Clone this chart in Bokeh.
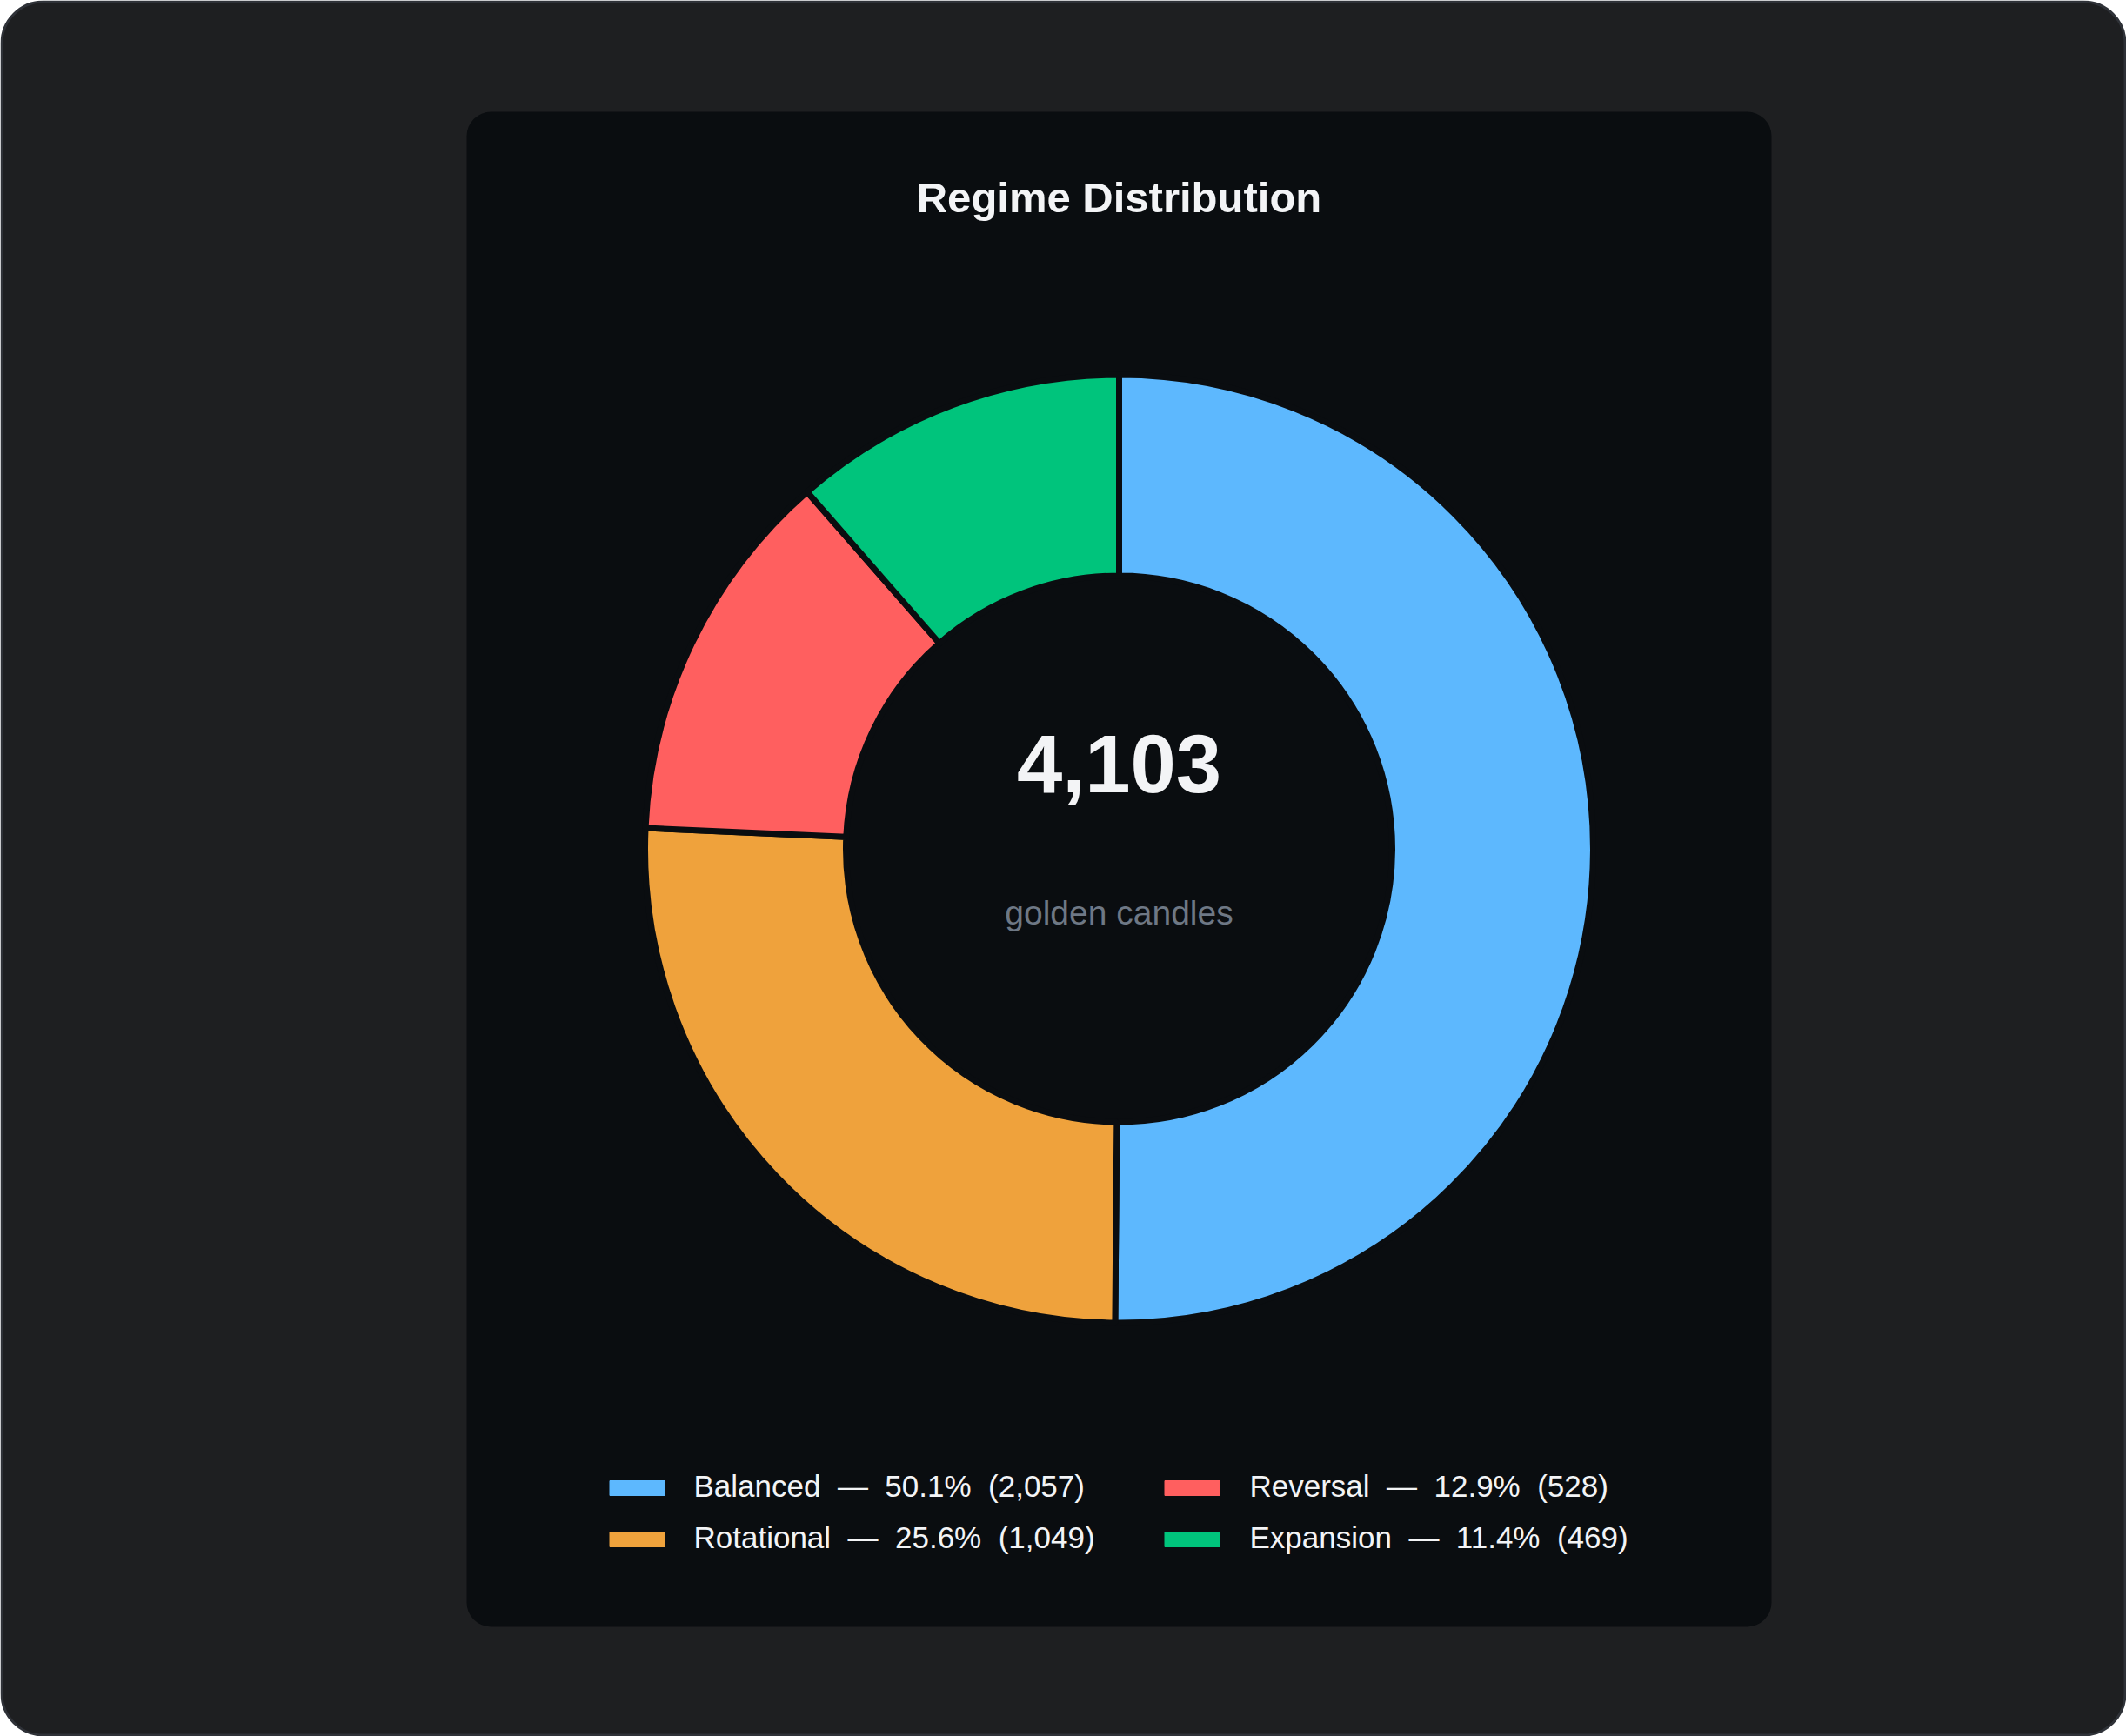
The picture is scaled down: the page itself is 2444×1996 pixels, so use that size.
import math
from bokeh.plotting import figure
from bokeh.models import Range1d, BoxAnnotation, ColumnDataSource
from bokeh.core.properties import value
from bokeh.embed import file_html
from bokeh.resources import INLINE

# ---- data ----
categories = ["Balanced", "Rotational", "Reversal", "Expansion"]
counts = [2057, 1049, 528, 469]
colors = ["#5db8fe", "#efa23c", "#ff5f5f", "#00c47c"]
title_text = "Regime Distribution"
center_label = "golden candles"

W, H = 2444, 1996
FONT = "Liberation Sans"
CARD_BG = "#0a0d10"

def Y(y_top):
    return H - y_top

p = figure(width=W, height=H, output_backend="svg", toolbar_location=None,
           x_range=Range1d(0, W), y_range=Range1d(0, H), min_border=0,
           background_fill_color="#ffffff", border_fill_color="#ffffff")
p.axis.visible = False
p.grid.visible = False
p.outline_line_color = None

# outer frame
p.add_layout(BoxAnnotation(left=1.5, right=W - 1.5, bottom=1.5, top=H - 1.5,
                           fill_color="#1e1f21", fill_alpha=1.0,
                           line_color="#2f3238", line_width=3, line_alpha=1.0,
                           border_radius=48, level="underlay"))
# card
p.add_layout(BoxAnnotation(left=536, right=2036, bottom=Y(1870), top=Y(128),
                           fill_color=CARD_BG, fill_alpha=1.0, line_color=None,
                           border_radius=28, level="underlay"))

# donut
total = sum(counts)
cx, cy = 1286, Y(975.5)
starts, ends = [], []
a = math.pi / 2
for c in counts:
    frac = c / total
    starts.append(a)
    a2 = a - frac * 2 * math.pi
    ends.append(a2)
    a = a2
src = ColumnDataSource(dict(x=[cx] * len(counts), y=[cy] * len(counts),
                            start=starts, end=ends, color=colors, cat=categories))
p.annular_wedge(x="x", y="y", inner_radius=314, outer_radius=545,
                start_angle="start", end_angle="end", direction="clock",
                fill_color="color", line_color=CARD_BG, line_width=7, source=src)

# title
p.text(x=[1286], y=[Y(226)], text=[title_text], text_font=value(FONT),
       text_font_size="49px", text_font_style="bold", text_color="#f3f4f6",
       text_align="center", text_baseline="alphabetic")

# center texts
p.text(x=[1286], y=[Y(877)], text=[f"{total:,}"], text_font=value(FONT),
       text_font_size="94px", text_font_style="bold", text_color="#f3f4f6",
       text_align="center", text_baseline="alphabetic")
p.text(x=[1286], y=[Y(1049)], text=[center_label], text_font=value(FONT),
       text_font_size="39px", text_color="#6e7885",
       text_align="center", text_baseline="alphabetic")

# legend (2 columns x 2 rows)
sw_x = [700, 700, 1338, 1338]
tx_x = [797, 797, 1436, 1436]
row_c = [1710.5, 1769.5, 1710.5, 1769.5]
row_b = [1708, 1767, 1708, 1767]
labels = [f"{n}\u00a0\u00a0—\u00a0\u00a0{c / total * 100:.1f}%\u00a0\u00a0({c:,})"
          for n, c in zip(categories, counts)]
leg = ColumnDataSource(dict(sx=[x + 32 for x in sw_x], sy=[Y(v) for v in row_c],
                            tx=tx_x, ty=[Y(v) for v in row_b],
                            color=colors, label=labels))
p.rect(x="sx", y="sy", width=63, height=17, fill_color="color",
       line_color="color", line_width=1, source=leg)
p.text(x="tx", y="ty", text="label", text_font=value(FONT), text_font_size="35px",
       text_color="#f3f4f6", text_align="left", text_baseline="alphabetic", source=leg)

open("out.html", "w").write(file_html(p, INLINE))
